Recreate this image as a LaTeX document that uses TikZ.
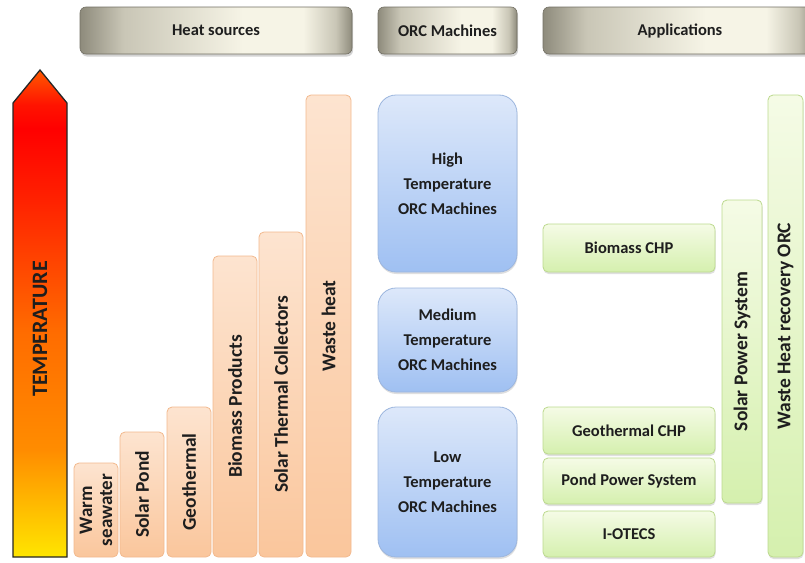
\documentclass[tikz,border=0pt]{standalone}
\usepackage{fontspec}
\setmainfont{Carlito}
\usetikzlibrary{shadows}
\definecolor{mdark}{HTML}{8E8B7C}
\definecolor{mmid}{HTML}{C9C6B6}
\definecolor{mlight}{HTML}{F6F4E6}
\pgfdeclarehorizontalshading{metal}{100bp}{color(0bp)=(mdark); color(25bp)=(mdark); color(33bp)=(mmid); color(55bp)=(mlight); color(66bp)=(mlight); color(72bp)=(mmid); color(75bp)=(mdark); color(100bp)=(mdark)}
\pgfdeclareverticalshading{tempgrad}{100bp}{color(0bp)=(yellow!80!orange); color(25bp)=(yellow!80!orange); color(36bp)=(orange!90!yellow); color(48bp)=(orange!85!red); color(62bp)=(red!75!orange); color(69bp)=(red); color(71.4bp)=(red!85!orange); color(75bp)=(orange!70!red); color(100bp)=(orange!70!red)}
\definecolor{peachtop}{HTML}{FDE4D0}
\definecolor{peachbot}{HTML}{FAC69C}
\definecolor{peachline}{HTML}{F2B98E}
\definecolor{bluetop}{HTML}{DDE8FA}
\definecolor{bluebot}{HTML}{9FC0F2}
\definecolor{blueline}{HTML}{9CB6DE}
\definecolor{greentop}{HTML}{F5FBE6}
\definecolor{greenbot}{HTML}{D5F0AE}
\definecolor{greenline}{HTML}{BCD98E}
\definecolor{txt}{HTML}{1E1E1E}
\tikzset{
  box/.style={inner sep=0pt, outer sep=0pt},
  header/.style={box, rounded corners=6pt, shading=metal, draw=mdark!80!black, line width=0.6pt,
    drop shadow={opacity=0.35, shadow xshift=1pt, shadow yshift=-2.5pt}},
  htext/.style={box, font=\fontsize{16.5}{20}\selectfont\bfseries, text=txt},
  peach/.style={box, rounded corners=5pt, top color=peachtop, bottom color=peachbot, draw=peachline, line width=0.8pt},
  bluebox/.style={box, rounded corners=18pt, top color=bluetop, bottom color=bluebot, draw=blueline, line width=0.8pt,
    drop shadow={opacity=0.25, shadow xshift=0.5pt, shadow yshift=-2pt},
    font=\fontsize{16.5}{25}\selectfont\bfseries, text=txt, align=center},
  greenbox/.style={box, rounded corners=5pt, top color=greentop, bottom color=greenbot, draw=greenline, line width=0.8pt,
    drop shadow={opacity=0.25, shadow xshift=0.5pt, shadow yshift=-2pt},
    font=\fontsize{16.5}{20}\selectfont\bfseries, text=txt},
  vlabel/.style={box, rotate=90, font=\fontsize{19.5}{20}\selectfont\bfseries, text=txt, align=center},
}
\begin{document}
\begin{tikzpicture}[x=1pt, y=-1pt]
\useasboundingbox (0,0) rectangle (805,562);
\clip (0,0) rectangle (805,562);
% headers
\node[header, htext, minimum width=272pt, minimum height=47pt, anchor=north west] (hs) at (80,7) {Heat sources};
\node[header, htext, minimum width=139pt, minimum height=47pt, anchor=north west] (orc) at (378,7) {ORC Machines};
\node[header, minimum width=272pt, minimum height=47pt, anchor=north west] (app) at (543,7) {};
\node[htext] (applab) at (680,30.5) {Applications};
% temperature arrow
\path[shading=tempgrad, draw=black!85, line width=1.3pt, line join=miter]
  (13,103) -- (40,70) -- (67,103) -- (67,557) -- (13,557) -- cycle;
\node[vlabel, font=\fontsize{22}{22}\selectfont\bfseries] (temp) at (40,329) {TEMPERATURE};
% heat sources
\node[peach, minimum width=44pt, minimum height=94pt, anchor=south west] (ws) at (74,557) {};
\node[vlabel, font=\fontsize{19}{20}\selectfont\bfseries] (wsl) at (ws.center) {Warm\\seawater};
\node[peach, minimum width=44pt, minimum height=125pt, anchor=south west] (sp) at (120,557) {};
\node[vlabel] (spl) at (sp.center) {Solar Pond};
\node[peach, minimum width=44pt, minimum height=150pt, anchor=south west] (ge) at (167,557) {};
\node[vlabel] (gel) at (ge.center) {Geothermal};
\node[peach, minimum width=44pt, minimum height=301pt, anchor=south west] (bp) at (213,557) {};
\node[vlabel] (bpl) at (bp.center) {Biomass Products};
\node[peach, minimum width=44pt, minimum height=325pt, anchor=south west] (st) at (259,557) {};
\node[vlabel] (stl) at (st.center) {Solar Thermal Collectors};
\node[peach, minimum width=45pt, minimum height=462pt, anchor=south west] (wh) at (306,557) {};
\node[vlabel] (whl) at (wh.center) {Waste heat};
% ORC machines
\node[bluebox, minimum width=139pt, minimum height=177pt, anchor=north west] (high) at (378,95) {High\\Temperature\\ORC Machines};
\node[bluebox, minimum width=139pt, minimum height=104pt, anchor=north west] (med) at (378,288) {Medium\\Temperature\\ORC Machines};
\node[bluebox, minimum width=139pt, minimum height=150pt, anchor=north west] (low) at (378,407) {Low\\Temperature\\ORC Machines};
% applications
\node[greenbox, minimum width=172pt, minimum height=48pt, anchor=north west] (bchp) at (543,224) {Biomass CHP};
\node[greenbox, minimum width=172pt, minimum height=47pt, anchor=north west] (gchp) at (543,407) {Geothermal CHP};
\node[greenbox, minimum width=172pt, minimum height=46pt, anchor=north west] (pps) at (543,458) {Pond Power System};
\node[greenbox, minimum width=172pt, minimum height=46pt, anchor=north west] (iot) at (543,511) {I-OTECS};
\node[greenbox, minimum width=40pt, minimum height=303pt, anchor=north west] (sps) at (722,200) {};
\node[vlabel] (spsl) at (sps.center) {Solar Power System};
\node[greenbox, minimum width=35pt, minimum height=462pt, anchor=north west] (whr) at (768,95) {};
\node[vlabel] (whrl) at (whr.center) {Waste Heat recovery ORC};
\end{tikzpicture}
\end{document}
